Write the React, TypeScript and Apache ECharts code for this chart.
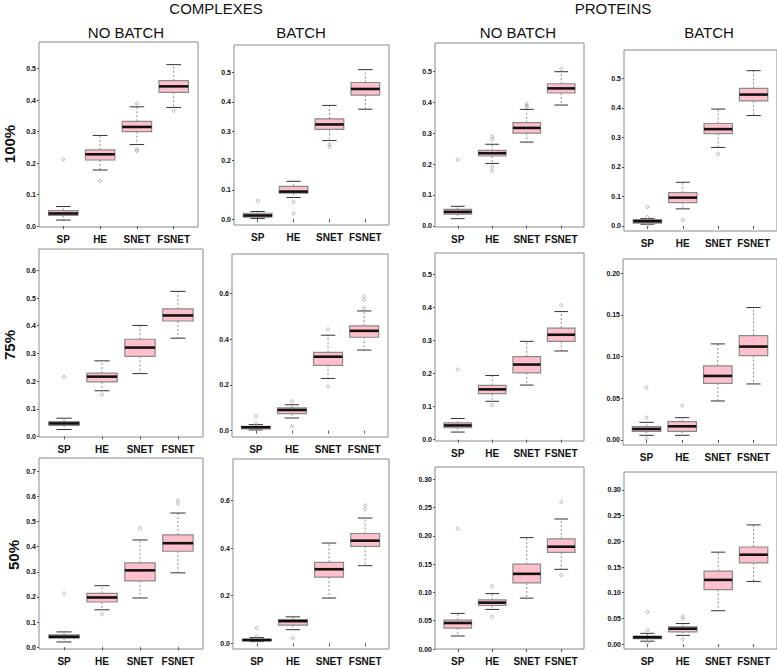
import React, { useEffect, useRef } from "react";
import * as echarts from "echarts";

// ---------- texts ----------
const categories = ["SP", "HE", "SNET", "FSNET"];
const groupTitles = ["COMPLEXES", "PROTEINS"];
const columnTitles = ["NO BATCH", "BATCH", "NO BATCH", "BATCH"];
const rowTitles = ["100%", "75%", "50%"];

// ---------- box statistics: [lower whisker, Q1, median, Q3, upper whisker] for SP, HE, SNET, FSNET ----------
const cxNoBatch100 = [
  [0.019, 0.034, 0.040, 0.049, 0.062],
  [0.178, 0.210, 0.228, 0.242, 0.288],
  [0.259, 0.300, 0.315, 0.333, 0.379],
  [0.377, 0.425, 0.444, 0.462, 0.513],
];
const cxNoBatch100Out = [[0.212], [0.143], [0.389, 0.244, 0.239], [0.366]];

const cxBatch100 = [
  [0.002, 0.007, 0.0125, 0.020, 0.026],
  [0.074, 0.089, 0.094, 0.112, 0.129],
  [0.268, 0.306, 0.323, 0.342, 0.388],
  [0.375, 0.423, 0.444, 0.466, 0.510],
];
const cxBatch100Out = [[0.062], [0.058, 0.019], [0.255, 0.247], []];

const prNoBatch100 = [
  [0.023, 0.038, 0.045, 0.053, 0.063],
  [0.202, 0.226, 0.235, 0.244, 0.264],
  [0.271, 0.300, 0.317, 0.334, 0.377],
  [0.391, 0.430, 0.445, 0.460, 0.499],
];
const prNoBatch100Out = [[0.214], [0.289, 0.280, 0.192, 0.179], [0.395, 0.389, 0.384], [0.508]];

const prBatch100 = [
  [0.006, 0.010, 0.016, 0.022, 0.025],
  [0.058, 0.079, 0.096, 0.113, 0.148],
  [0.266, 0.313, 0.328, 0.347, 0.396],
  [0.374, 0.424, 0.445, 0.466, 0.526],
];
const prBatch100Out = [[0.064, 0.030, 0.003], [0.021], [0.244], []];

const cxNoBatch75 = [
  [0.025, 0.040, 0.047, 0.054, 0.066],
  [0.165, 0.197, 0.216, 0.229, 0.273],
  [0.227, 0.289, 0.321, 0.351, 0.401],
  [0.355, 0.417, 0.437, 0.461, 0.524],
];
const cxNoBatch75Out = [[0.215], [0.151], [], []];

const cxBatch75 = [
  [0.003, 0.007, 0.0145, 0.019, 0.026],
  [0.055, 0.074, 0.090, 0.099, 0.113],
  [0.228, 0.285, 0.323, 0.342, 0.417],
  [0.352, 0.408, 0.436, 0.458, 0.523],
];
const cxBatch75Out = [[0.063, 0.030], [0.128, 0.019], [0.443, 0.193], [0.586, 0.571, 0.535]];

const prNoBatch75 = [
  [0.023, 0.036, 0.043, 0.051, 0.064],
  [0.116, 0.139, 0.152, 0.164, 0.194],
  [0.165, 0.202, 0.227, 0.251, 0.297],
  [0.268, 0.297, 0.317, 0.337, 0.387],
];
const prNoBatch75Out = [[0.212], [0.104], [], [0.406]];

const prBatch75 = [
  [0.0056, 0.0104, 0.0132, 0.016, 0.0212],
  [0.0056, 0.0104, 0.0164, 0.022, 0.0268],
  [0.0468, 0.068, 0.0768, 0.0888, 0.1152],
  [0.0672, 0.1012, 0.112, 0.1252, 0.1588],
];
const prBatch75Out = [[0.0628, 0.0268, 0.002], [0.0412], [], []];

const cxNoBatch50 = [
  [0.021, 0.036, 0.042, 0.049, 0.061],
  [0.149, 0.180, 0.198, 0.214, 0.245],
  [0.196, 0.264, 0.306, 0.336, 0.427],
  [0.296, 0.382, 0.414, 0.447, 0.534],
];
const cxNoBatch50Out = [[0.214], [0.131], [0.473], [0.584, 0.572]];

const cxBatch50 = [
  [0.007, 0.010, 0.014, 0.017, 0.024],
  [0.057, 0.076, 0.093, 0.100, 0.111],
  [0.190, 0.278, 0.311, 0.340, 0.421],
  [0.326, 0.407, 0.431, 0.461, 0.526],
];
const cxBatch50Out = [[0.063, 0.028], [0.021], [], [0.579, 0.563]];

const prNoBatch50 = [
  [0.023, 0.037, 0.046, 0.051, 0.063],
  [0.070, 0.077, 0.082, 0.087, 0.098],
  [0.090, 0.117, 0.133, 0.150, 0.197],
  [0.141, 0.171, 0.181, 0.195, 0.230],
];
const prNoBatch50Out = [[0.213], [0.111, 0.057], [], [0.260, 0.131]];

const prBatch50 = [
  [0.0057, 0.0108, 0.0133, 0.0158, 0.021],
  [0.017, 0.024, 0.030, 0.0335, 0.040],
  [0.065, 0.106, 0.125, 0.142, 0.179],
  [0.122, 0.158, 0.174, 0.189, 0.232],
];
const prBatch50Out = [[0.062, 0.027, 0.003], [0.054, 0.049, 0.0095], [], []];

// ---------- tick labels ----------
const ticksTenth5 = [0, 0.1, 0.2, 0.3, 0.4, 0.5];
const ticksTenth6 = [0, 0.1, 0.2, 0.3, 0.4, 0.5, 0.6];
const ticksTenth7 = [0, 0.1, 0.2, 0.3, 0.4, 0.5, 0.6, 0.7];
const ticksFifth = [0, 0.2, 0.4, 0.6];
const ticksTwentieth4 = [0, 0.05, 0.1, 0.15, 0.2];
const ticksTwentieth6 = [0, 0.05, 0.1, 0.15, 0.2, 0.25, 0.3];
const categoryTicks = [1, 2, 3, 4];

// ---------- panels (data + layout) ----------
const panels = [
  { stats: cxNoBatch100, out: cxNoBatch100Out, ticks: ticksTenth5, digits: 1, yMin: -0.003, yMax: 0.585, left: 39, top: 42, width: 159, height: 185 },
  { stats: cxBatch100, out: cxBatch100Out, ticks: ticksTenth5, digits: 1, yMin: -0.02, yMax: 0.594, left: 234, top: 45, width: 155, height: 180 },
  { stats: prNoBatch100, out: prNoBatch100Out, ticks: ticksTenth5, digits: 1, yMin: -0.004, yMax: 0.592, left: 435, top: 43, width: 149, height: 184 },
  { stats: prBatch100, out: prBatch100Out, ticks: ticksTenth5, digits: 1, yMin: -0.017, yMax: 0.596, left: 624, top: 50, width: 153, height: 181 },
  { stats: cxNoBatch75, out: cxNoBatch75Out, ticks: ticksTenth6, digits: 1, yMin: -0.002, yMax: 0.677, left: 39, top: 249, width: 164, height: 188 },
  { stats: cxBatch75, out: cxBatch75Out, ticks: ticksFifth, digits: 1, yMin: -0.028, yMax: 0.772, left: 232, top: 254, width: 156, height: 183 },
  { stats: prNoBatch75, out: prNoBatch75Out, ticks: ticksTenth5, digits: 1, yMin: -0.004, yMax: 0.564, left: 435, top: 253, width: 149, height: 188 },
  { stats: prBatch75, out: prBatch75Out, ticks: ticksTwentieth4, digits: 2, yMin: -0.006, yMax: 0.217, left: 623, top: 259, width: 154, height: 186 },
  { stats: cxNoBatch50, out: cxNoBatch50Out, ticks: ticksTenth7, digits: 1, yMin: -0.007, yMax: 0.753, left: 39, top: 458, width: 164, height: 191 },
  { stats: cxBatch50, out: cxBatch50Out, ticks: ticksFifth, digits: 1, yMin: -0.024, yMax: 0.774, left: 233, top: 459, width: 156, height: 192 },
  { stats: prNoBatch50, out: prNoBatch50Out, ticks: ticksTwentieth6, digits: 2, yMin: 0, yMax: 0.322, left: 435, top: 467, width: 149, height: 185 },
  { stats: prBatch50, out: prBatch50Out, ticks: ticksTwentieth6, digits: 2, yMin: -0.0095, yMax: 0.335, left: 624, top: 472, width: 153, height: 181 },
];

const FONT = "'Liberation Sans', Arial, Helvetica, sans-serif";

function renderBox(params: any, api: any) {
  const x = api.value(0);
  const lo = api.coord([x, api.value(1)]);
  const q1 = api.coord([x, api.value(2)]);
  const md = api.coord([x, api.value(3)]);
  const q3 = api.coord([x, api.value(4)]);
  const hi = api.coord([x, api.value(5)]);
  const w = api.size([0.8, 0])[0];
  const staple = w / 2;
  const cx = md[0];
  return {
    type: "group",
    children: [
      { type: "line", shape: { x1: cx, y1: q3[1], x2: cx, y2: hi[1] }, style: { stroke: "#8c8c8c", lineWidth: 1, lineDash: [2, 2] } },
      { type: "line", shape: { x1: cx, y1: q1[1], x2: cx, y2: lo[1] }, style: { stroke: "#8c8c8c", lineWidth: 1, lineDash: [2, 2] } },
      { type: "line", shape: { x1: cx - staple / 2, y1: hi[1], x2: cx + staple / 2, y2: hi[1] }, style: { stroke: "#333", lineWidth: 1 } },
      { type: "line", shape: { x1: cx - staple / 2, y1: lo[1], x2: cx + staple / 2, y2: lo[1] }, style: { stroke: "#333", lineWidth: 1 } },
      { type: "rect", shape: { x: cx - w / 2, y: q3[1], width: w, height: q1[1] - q3[1] }, style: { fill: "#FFC0CB", stroke: "#8a8a8a", lineWidth: 1.2 } },
      { type: "line", shape: { x1: cx - w / 2, y1: md[1], x2: cx + w / 2, y2: md[1] }, style: { stroke: "#111", lineWidth: 2.6 } },
    ],
  };
}

function buildOption() {
  const grid: any[] = [];
  const xAxis: any[] = [];
  const yAxis: any[] = [];
  const series: any[] = [];
  panels.forEach((p, i) => {
    grid.push({
      left: p.left, top: p.top, width: p.width, height: p.height,
      show: true, borderColor: "#8a8a8a", borderWidth: 1, backgroundColor: "transparent",
    });
    xAxis.push({
      type: "value", gridIndex: i, min: 0.34, max: 4.66,
      axisLine: { show: false },
      splitLine: { show: false },
      axisTick: { show: true, length: 3, customValues: categoryTicks, lineStyle: { color: "#555" } },
      axisLabel: {
        show: true, customValues: categoryTicks, margin: 7,
        formatter: (v: number) => categories[Math.round(v) - 1] ?? "",
        fontSize: 10, fontWeight: "bold", color: "#111", fontFamily: FONT,
      },
    });
    yAxis.push({
      type: "value", gridIndex: i, min: p.yMin, max: p.yMax,
      axisLine: { show: false },
      splitLine: { show: false },
      axisTick: { show: true, length: 2, customValues: p.ticks, lineStyle: { color: "#555" } },
      axisLabel: {
        show: true, customValues: p.ticks, margin: 3,
        formatter: (v: number) => v.toFixed(p.digits),
        fontSize: 7, fontWeight: "bold", color: "#111", fontFamily: FONT,
      },
    });
    series.push({
      type: "custom", xAxisIndex: i, yAxisIndex: i,
      renderItem: renderBox,
      encode: { x: 0, y: [1, 2, 3, 4, 5] },
      data: p.stats.map((s, k) => [k + 1, ...s]),
      z: 2,
    });
    const outPts: number[][] = [];
    p.out.forEach((vals, k) => vals.forEach((v) => outPts.push([k + 1, v])));
    series.push({
      type: "scatter", xAxisIndex: i, yAxisIndex: i,
      symbol: "circle", symbolSize: 3,
      itemStyle: { color: "rgba(255,255,255,0)", borderColor: "#a0a0a0", borderWidth: 0.8, opacity: 1 },
      data: outPts, z: 3, silent: true,
    });
  });

  const txt = (text: string, x: number, y: number, size: number, weight: string, rotation = 0) => ({
    type: "text", x, y, rotation,
    style: { text, fontSize: size, fontWeight: weight, fontFamily: FONT, fill: "#111", align: "center", verticalAlign: "middle" },
  });

  const graphic = [
    txt(groupTitles[0], 216, 8, 15, "normal"),
    txt(groupTitles[1], 613, 8, 15, "normal"),
    txt(columnTitles[0], 126, 32, 15, "normal"),
    txt(columnTitles[1], 301, 32, 15, "normal"),
    txt(columnTitles[2], 518, 32, 15, "normal"),
    txt(columnTitles[3], 709, 32, 15, "normal"),
    txt(rowTitles[0], 9, 144, 15, "bold", Math.PI / 2),
    txt(rowTitles[1], 9, 345, 15, "bold", Math.PI / 2),
    txt(rowTitles[2], 13, 555, 15, "bold", Math.PI / 2),
  ];

  return {
    animation: false,
    backgroundColor: "#ffffff",
    textStyle: { fontFamily: FONT },
    grid, xAxis, yAxis, series, graphic,
  };
}

export default function App() {
  const ref = useRef<HTMLDivElement>(null);
  useEffect(() => {
    if (!ref.current) return;
    const chart = echarts.init(ref.current, undefined, { renderer: "svg" });
    chart.setOption(buildOption() as any);
    return () => chart.dispose();
  }, []);
  return (
    <div
      ref={ref}
      style={{ position: "fixed", left: 0, top: 0, width: 777, height: 666, background: "#fff" }}
    />
  );
}
